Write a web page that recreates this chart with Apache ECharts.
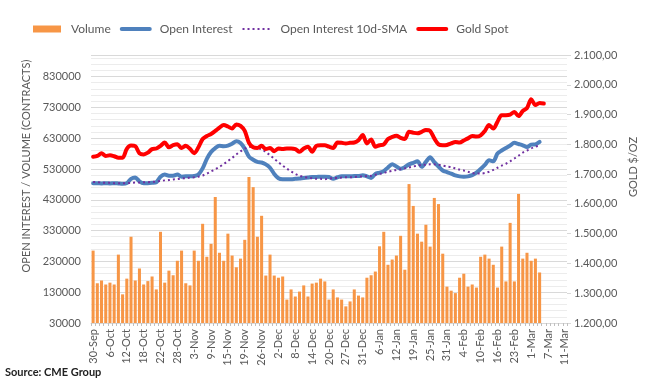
<!DOCTYPE html>
<html>
<head>
<meta charset="utf-8">
<script src="https://cdn.jsdelivr.net/npm/echarts@6/dist/echarts.min.js"></script>
<style>
html,body{margin:0;padding:0;background:#fff;}
#chart{width:655px;height:392px;}
</style>
</head>
<body>
<div id="chart"></div>
<script>
var categories = ['30-Sep','1-Oct','4-Oct','5-Oct','6-Oct','7-Oct','8-Oct','11-Oct','12-Oct','13-Oct','14-Oct','15-Oct','18-Oct','19-Oct','20-Oct','21-Oct','22-Oct','25-Oct','26-Oct','27-Oct','28-Oct','29-Oct','1-Nov','2-Nov','3-Nov','4-Nov','5-Nov','8-Nov','9-Nov','10-Nov','11-Nov','12-Nov','15-Nov','16-Nov','17-Nov','18-Nov','19-Nov','22-Nov','23-Nov','24-Nov','26-Nov','29-Nov','30-Nov','1-Dec','2-Dec','3-Dec','6-Dec','7-Dec','8-Dec','9-Dec','10-Dec','13-Dec','14-Dec','15-Dec','16-Dec','17-Dec','20-Dec','21-Dec','22-Dec','23-Dec','27-Dec','28-Dec','29-Dec','30-Dec','31-Dec','3-Jan','4-Jan','5-Jan','6-Jan','7-Jan','10-Jan','11-Jan','12-Jan','13-Jan','14-Jan','18-Jan','19-Jan','20-Jan','21-Jan','24-Jan','25-Jan','26-Jan','27-Jan','28-Jan','31-Jan','1-Feb','2-Feb','3-Feb','4-Feb','7-Feb','8-Feb','9-Feb','10-Feb','11-Feb','14-Feb','15-Feb','16-Feb','17-Feb','18-Feb','22-Feb','23-Feb','24-Feb','25-Feb','28-Feb','1-Mar','2-Mar','3-Mar','4-Mar','7-Mar','8-Mar','9-Mar','10-Mar','11-Mar'];

var volume = [265000,159000,168000,155000,161000,155000,252000,123000,174000,310000,168000,207000,155000,166000,181000,139000,326000,161000,200000,185000,232000,265000,159000,152000,265000,232000,352000,245000,287000,439000,258000,232000,320000,249000,211000,239000,300000,504000,471000,310000,378000,184000,252000,184000,177000,181000,106000,139000,116000,132000,152000,116000,158000,161000,174000,165000,106000,139000,113000,106000,84000,100000,139000,119000,113000,177000,185000,197000,279000,326000,219000,236000,249000,313000,203000,481000,410000,320000,294000,349000,278000,436000,416000,255000,148000,135000,127000,177000,190000,148000,155000,145000,245000,252000,239000,219000,145000,278000,165000,355000,165000,449000,239000,258000,232000,239000,194000];

var openInterest = [484000,484000,483000,484000,483000,484000,483000,482000,484000,498000,502000,490000,484000,484000,485000,487000,505000,512000,508000,508000,512000,505000,506000,506000,507000,512000,532000,563000,585000,598000,605000,604000,606000,612000,620000,614000,596000,570000,560000,553000,551000,545000,534000,514000,500000,497000,497000,497000,498000,499000,501000,502000,504000,504000,505000,505000,504000,498000,503000,506000,506000,506000,507000,507000,510000,506000,501000,514000,518000,523000,535000,545000,538000,531000,536000,545000,550000,555000,537000,553000,568000,552000,538000,525000,520000,515000,509000,506000,505000,506000,510000,518000,530000,543000,558000,555000,580000,590000,598000,606000,615000,611000,607000,601000,609000,610000,618000];

var oiSma10 = [488000,487000,486000,485000,485000,484000,484000,484000,484000,485000,486000,486000,487000,487000,488000,489000,491000,493000,494000,496000,497000,499000,500000,502000,503000,505000,509000,515000,522000,529000,537000,546000,556000,566000,577000,587000,596000,602000,600000,597000,594000,585000,575000,563000,552000,541000,531000,522000,514000,508000,504000,502000,500000,498000,498000,497000,499000,500000,501000,502000,503000,503000,504000,505000,506000,507000,508000,511000,514000,517000,521000,524000,527000,529000,532000,535000,538000,541000,543000,544000,545000,545000,544000,541000,538000,536000,532000,528000,525000,521000,517000,515000,515000,517000,521000,527000,534000,541000,547000,555000,564000,573000,583000,590000,597000,602000,606000];

var goldSpot = [1758,1761,1770,1761,1763,1760,1755,1755,1785,1796,1794,1770,1766,1772,1784,1786,1795,1806,1790,1797,1800,1788,1795,1785,1770,1790,1818,1828,1835,1845,1856,1865,1860,1853,1867,1862,1845,1805,1790,1788,1795,1784,1788,1777,1786,1784,1786,1786,1784,1775,1786,1792,1775,1795,1797,1797,1792,1788,1806,1805,1803,1805,1806,1814,1831,1803,1816,1792,1797,1800,1818,1825,1829,1822,1818,1842,1839,1837,1842,1848,1845,1820,1800,1797,1798,1803,1808,1806,1813,1820,1828,1826,1830,1845,1865,1853,1876,1898,1898,1900,1909,1895,1912,1922,1951,1932,1939,1937];

var leftTicks = {min: 30000, max: 900000, step: 100000};
var rightTicks = {min: 1200, max: 2100, step: 100};

function fmtGold(v) {
  var s = v.toFixed(2).split('.');
  var i = s[0].replace(/\B(?=(\d{3})+(?!\d))/g, '.');
  return i + ',' + s[1];
}
function fmtPlain(v) { return String(Math.round(v)); }

var FONT = 'Lato, "Liberation Sans", sans-serif';
var TXT = '#595959';

var chart = echarts.init(document.getElementById('chart'), null, {renderer: 'canvas'});
chart.setOption({
  animation: false,
  backgroundColor: '#ffffff',
  textStyle: {fontFamily: FONT},
  legend: {
    left: 28, top: 18,
    itemWidth: 28, itemHeight: 7, itemGap: 9,
    textStyle: {fontSize: 12, color: TXT, fontFamily: FONT, padding: [0, 0, 0, 5]},
    data: [
      {name: 'Volume', icon: 'rect'},
      {name: 'Open Interest', itemStyle: {opacity: 0}, lineStyle: {width: 4}},
      {name: 'Open Interest 10d-SMA', itemStyle: {opacity: 0}, lineStyle: {width: 2}},
      {name: 'Gold Spot', itemStyle: {opacity: 0}, lineStyle: {width: 4}}
    ]
  },
  grid: {left: 91, right: 88, top: 55, bottom: 69, containLabel: false},
  xAxis: {
    type: 'category',
    data: categories,
    boundaryGap: true,
    axisLine: {lineStyle: {color: '#d9d9d9'}},
    axisTick: {show: true, interval: 0, length: 3, lineStyle: {color: '#bfbfbf'}},
    axisLabel: {interval: 3, rotate: 90, fontSize: 11, color: TXT, fontFamily: FONT, margin: 6}
  },
  yAxis: [
    {
      type: 'value',
      min: leftTicks.min, max: leftTicks.max, interval: leftTicks.step,
      name: 'OPEN INTEREST / VOLUME (CONTRACTS)',
      nameLocation: 'middle', nameRotate: 90, nameGap: 58,
      nameTextStyle: {fontSize: 11, color: TXT, fontFamily: FONT, padding: [0, 0, 0, 46]},
      axisLine: {show: false}, axisTick: {show: false},
      axisLabel: {fontSize: 11, color: TXT, fontFamily: FONT, margin: 10, showMaxLabel: false, formatter: fmtPlain},
      splitLine: {show: true, lineStyle: {color: '#d9d9d9', width: 1}},
      minorTick: {show: false, splitNumber: 5},
      minorSplitLine: {show: true, lineStyle: {color: '#ececec', width: 1}}
    },
    {
      type: 'value',
      min: rightTicks.min, max: rightTicks.max, interval: rightTicks.step,
      position: 'right',
      name: 'GOLD $/OZ',
      nameLocation: 'middle', nameRotate: 90, nameGap: 60,
      nameTextStyle: {fontSize: 11, color: TXT, fontFamily: FONT, padding: [0, 0, 0, 44]},
      axisLine: {show: false},
      axisTick: {show: true, length: 4, lineStyle: {color: '#d9d9d9'}},
      axisLabel: {fontSize: 11, color: TXT, fontFamily: FONT, margin: 7, formatter: fmtGold},
      splitLine: {show: false}
    }
  ],
  series: [
    {
      name: 'Volume', type: 'bar', yAxisIndex: 0,
      data: volume, barCategoryGap: '28%',
      itemStyle: {color: '#F79646'}
    },
    {
      name: 'Open Interest', type: 'line', yAxisIndex: 0,
      data: openInterest, showSymbol: false, symbol: 'none', smooth: 0.3,
      lineStyle: {color: '#4F81BD', width: 4, cap: 'round', join: 'round'},
      itemStyle: {color: '#4F81BD'}
    },
    {
      name: 'Open Interest 10d-SMA', type: 'line', yAxisIndex: 0,
      data: oiSma10, showSymbol: false, symbol: 'none', smooth: 0.3,
      lineStyle: {color: '#7030A0', width: 2, type: [2, 3]},
      itemStyle: {color: '#7030A0'}
    },
    {
      name: 'Gold Spot', type: 'line', yAxisIndex: 1,
      data: goldSpot, showSymbol: false, symbol: 'none', smooth: 0.3,
      lineStyle: {color: '#FF0000', width: 4, cap: 'round', join: 'round'},
      itemStyle: {color: '#FF0000'}
    }
  ],
  graphic: [
    {
      type: 'text', left: 5, top: 367,
      style: {text: 'Source: CME Group', font: 'bold 11px ' + FONT, fill: '#222222'}
    }
  ]
});
</script>
</body>
</html>
